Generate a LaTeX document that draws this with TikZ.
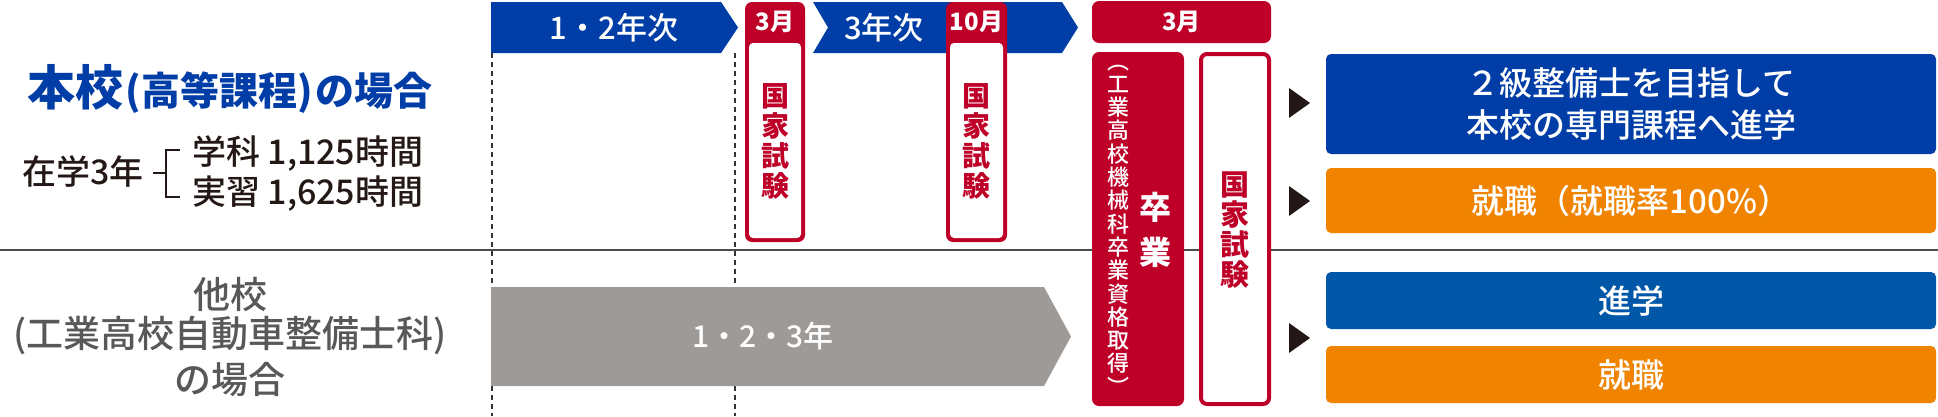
\documentclass[tikz,border=0pt]{standalone}
\usepackage{fontspec}
\setmainfont{Noto Sans CJK JP}
\newfontfamily\medfont{Noto Sans CJK JP Medium}
\newcommand\tightlines{\lineskiplimit=-50pt\relax}
\definecolor{hblue}{HTML}{003DA6}
\definecolor{hbluelight}{HTML}{0057A8}
\definecolor{hred}{HTML}{BE0028}
\definecolor{horange}{HTML}{F08300}
\definecolor{hgray}{HTML}{9E9A97}
\definecolor{htextgray}{HTML}{595757}
\definecolor{hblack}{HTML}{231815}
\tikzset{
  bartext/.style={text=white, font=\medfont\fontsize{31}{31}\selectfont},
  monthtext/.style={text=white, font=\bfseries\fontsize{24}{24}\selectfont},
  examtext/.style={text=hred, align=center, font=\bfseries\fontsize{28}{30}\selectfont},
  outcome/.style={rounded corners=5pt, minimum width=610pt, text=white, align=center},
  lefttext/.style={text=hblack, font=\medfont\fontsize{34}{34}\selectfont},
  graytext/.style={text=htextgray, font=\medfont\fontsize{37}{37}\selectfont}
}
\begin{document}
\begin{tikzpicture}[x=1pt,y=-1pt,every node/.style={inner sep=0pt,outer sep=0pt}]
\useasboundingbox (0,0) rectangle (1938,416);
% guide lines
\draw[black!70, line width=1.5pt] (0,250) -- (1938,250);
\draw[black!80, line width=1.2pt, dash pattern=on 5pt off 4pt] (492,53) -- (492,416) (735,53) -- (735,416);
% left labels
\node[font=\bfseries, text=hblue] (main) at (230,89) {{\fontsize{48}{48}\selectfont 本校}{\fontsize{39}{39}\selectfont\kern2pt(高等課程)\kern2pt の場合}};
\node[lefttext] (stay) at (83,172) {在学3年};
\node[lefttext, anchor=west] (hours1) at (192,153) {学科 1,125時間};
\node[lefttext, anchor=west] (hours2) at (192,194) {実習 1,625時間};
\draw[hblack, line width=1.5pt] (153,173) -- (166,173) (180,150) -- (166,150) -- (166,197) -- (180,197);
\node[graytext] (other) at (230,294) {他校};
\node[graytext] (otherdept) at (230,336) {(工業高校自動車整備士科)};
\node[graytext] (othercase) at (230,380) {の場合};
% year bars
\fill[hblue] (491,2) -- (721,2) -- (738,27.5) -- (721,53) -- (491,53) -- cycle;
\node[bartext] (yr12) at (614,28) {1・2年次};
\fill[hblue] (813,2) -- (1062,2) -- (1078,27.5) -- (1062,53) -- (813,53) -- (828,27.5) -- cycle;
\node[bartext] (yr3) at (884,28) {3年次};
\fill[hgray] (491,287) -- (1044,287) -- (1071,336.5) -- (1044,386) -- (491,386) -- cycle;
\node[bartext, font=\medfont\fontsize{30}{30}\selectfont] (yr123) at (763,336) {1・2・3年};
% exam tags
\fill[hred, rounded corners=7pt] (745,2) rectangle (805,242);
\fill[white, rounded corners=4pt] (749,43) rectangle (801,238);
\node[monthtext] (mar1) at (775,22) {3月};
\node[examtext] (exam1) at (775,141) {\tightlines 国\\家\\試\\験};
\fill[hred, rounded corners=7pt] (946,2) rectangle (1007,242);
\fill[white, rounded corners=4pt] (950,43) rectangle (1003,238);
\node[monthtext] (oct) at (976.5,22) {10月};
\node[examtext] (exam2) at (976.5,141) {\tightlines 国\\家\\試\\験};
% graduation
\fill[hred, rounded corners=7pt] (1092,1) rectangle (1271,43);
\node[monthtext] (mar2) at (1181.5,22) {3月};
\fill[hred, rounded corners=7pt] (1092,52) rectangle (1184,406);
\node[text=white, align=center, font=\medfont\fontsize{22}{23.3}\selectfont] (qual) at (1118,230)
  {\tightlines ︵\\工\\業\\高\\校\\機\\械\\科\\卒\\業\\資\\格\\取\\得\\︶};
\node[text=white, align=center, font=\bfseries\fontsize{32}{45}\selectfont] (grad) at (1155,229.5) {\tightlines 卒\\業};
\draw[hred, line width=4pt, rounded corners=6pt, fill=white] (1201,54) rectangle (1269,404);
\node[examtext, font=\bfseries\fontsize{29}{30}\selectfont] (exam3) at (1235,230) {\tightlines 国\\家\\試\\験};
% results
\foreach \y in {103,201,338}
  \fill[hblack] (1289,\y-15) -- (1310,\y) -- (1289,\y+15) -- cycle;
\node[outcome, fill=hblue, minimum height=100pt, font=\medfont\fontsize{33}{42}\selectfont] (advance) at (1631,104)
  {２級整備士を目指して\\本校の専門課程へ進学};
\node[outcome, fill=horange, minimum height=65pt, font=\medfont\fontsize{33}{33}\selectfont] (job1) at (1631,200.5) {就職（就職率100\%）};
\node[outcome, fill=hbluelight, minimum height=57pt, font=\medfont\fontsize{33}{33}\selectfont] (study) at (1631,300.5) {進学};
\node[outcome, fill=horange, minimum height=57pt, font=\medfont\fontsize{33}{33}\selectfont] (job2) at (1631,374.5) {就職};
\end{tikzpicture}
\end{document}
